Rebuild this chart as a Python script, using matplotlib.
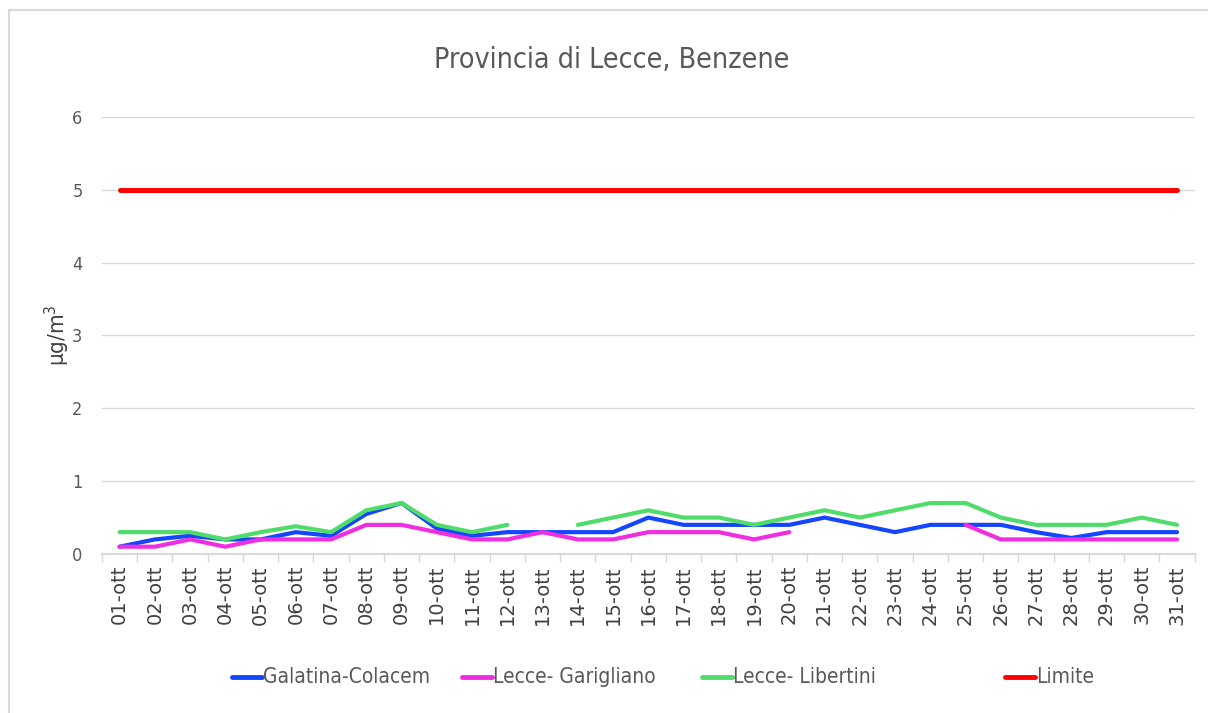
import numpy as np
import matplotlib.pyplot as plt
from matplotlib.lines import Line2D

plt.rcParams['font.family'] = ['DejaVu Sans']
plt.rcParams['font.stretch'] = 'condensed'

days = ['%02d-ott' % d for d in range(1, 32)]

galatina = [0.1, 0.2, 0.25, 0.2, 0.2, 0.3, 0.25, 0.55, 0.7, 0.35, 0.25,
            0.3, 0.3, 0.3, 0.3, 0.5, 0.4, 0.4, 0.4, 0.4, 0.5,
            0.4, 0.3, 0.4, 0.4, 0.4, 0.3, 0.22, 0.3, 0.3, 0.3]
garigliano = [0.1, 0.1, 0.2, 0.1, 0.2, 0.2, 0.2, 0.4, 0.4, 0.3, 0.2,
              0.2, 0.3, 0.2, 0.2, 0.3, 0.3, 0.3, 0.2, 0.3, np.nan,
              np.nan, np.nan, np.nan, 0.4, 0.2, 0.2, 0.2, 0.2, 0.2, 0.2]
libertini = [0.3, 0.3, 0.3, 0.2, 0.3, 0.38, 0.3, 0.6, 0.7, 0.4, 0.3,
             0.4, np.nan, 0.4, 0.5, 0.6, 0.5, 0.5, 0.4, 0.5, 0.6,
             0.5, 0.6, 0.7, 0.7, 0.5, 0.4, 0.4, 0.4, 0.5, 0.4]
limite = [5] * 31

names = ['Galatina-Colacem', 'Lecce- Garigliano', 'Lecce- Libertini', 'Limite']
colors = ['#1446ff', '#ee2ee0', '#50dc6a', '#ff0000']

fig = plt.figure(figsize=(12.08, 7.13), dpi=100)
ax = fig.add_axes([0.0844, 0.223, 0.9046, 0.613])

x = np.arange(len(days))
ax.plot(x, galatina, color=colors[0], lw=3, solid_capstyle='round')
ax.plot(x, garigliano, color=colors[1], lw=3, solid_capstyle='round')
ax.plot(x, libertini, color=colors[2], lw=3, solid_capstyle='round')
ax.plot(x, limite, color=colors[3], lw=3.6, solid_capstyle='round')

ax.set_xlim(-0.5, len(days) - 0.5)
ax.set_ylim(0, 6)
ax.set_yticks(range(7))
ax.yaxis.grid(True, color='#d9d9d9', lw=1)
ax.set_axisbelow(True)
for s in ['top', 'right', 'left']:
    ax.spines[s].set_visible(False)
ax.spines['bottom'].set_color('#d9d9d9')
ax.spines['bottom'].set_linewidth(1.5)

ax.set_xticks(x)
ax.set_xticklabels(days, rotation=90, fontsize=14, color='#404040',
                   fontstretch='normal')
ax.tick_params(axis='x', length=0, pad=8)
ax.set_xticks(np.arange(-0.5, len(days)), minor=True)
ax.tick_params(axis='x', which='minor', length=6, color='#d9d9d9', width=1)
ax.tick_params(axis='y', length=0, labelsize=13, labelcolor='#595959', pad=14)

ax.set_ylabel('µg/m$^3$', fontsize=16, color='#404040', labelpad=0)

fig.text(0.506, 0.916, 'Provincia di Lecce, Benzene', ha='center', va='center',
         fontsize=20.5, color='#595959')

# legend entries placed like the original
leg_x = [232, 462, 702, 1005]
for lx, name, c in zip(leg_x, names, colors):
    fig.add_artist(Line2D([lx / 1208, (lx + 30) / 1208], [0.05, 0.05],
                          color=c, lw=3.5, solid_capstyle='round',
                          transform=fig.transFigure))
    fig.text((lx + 31) / 1208, 0.05, name, ha='left', va='center',
             fontsize=15, color='#595959')

fig.add_artist(Line2D([0.0075, 0.0075], [0, 0.986], color='#d9d9d9', lw=1.5,
                      transform=fig.transFigure))
fig.add_artist(Line2D([0.0075, 1], [0.986, 0.986], color='#d9d9d9', lw=1.5,
                      transform=fig.transFigure))

fig.savefig('out.png', dpi=100)
